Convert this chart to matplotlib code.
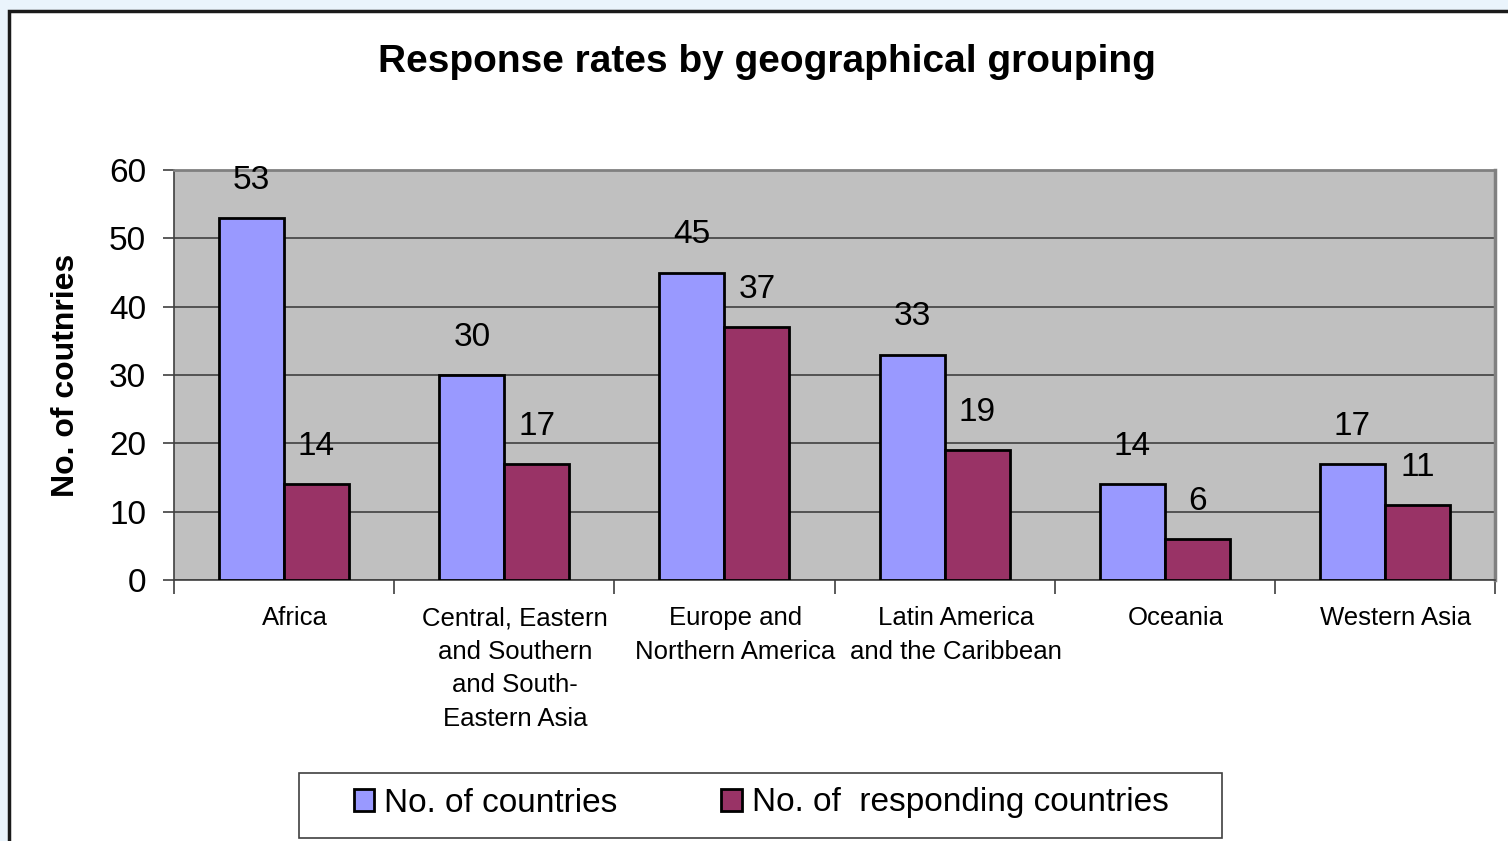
import numpy as np
import matplotlib.pyplot as plt
from matplotlib.patches import Rectangle

plt.rcParams['font.family'] = ['Liberation Sans', 'DejaVu Sans']

regions = ['Africa', 'Central, Eastern\nand Southern\nand South-\nEastern Asia',
           'Europe and\nNorthern America', 'Latin America\nand the Caribbean',
           'Oceania', 'Western Asia']
n_countries = [53, 30, 45, 33, 14, 17]
n_responding = [14, 17, 37, 19, 6, 11]

W, H = 1508, 841
fig = plt.figure(figsize=(W / 100, H / 100), dpi=100)
fig.patch.set_facecolor('#eaf4fc')

# white chart area with dark frame
fig.patches.append(Rectangle((9 / W, -0.05), 1.1, 1 - 11 / H + 0.05,
                             transform=fig.transFigure, facecolor='white',
                             edgecolor='#1a1a1a', linewidth=2.5, zorder=-2))

ax = fig.add_axes([174 / W, 1 - 580 / H, (1495 - 174) / W, (580 - 170) / H])
ax.set_facecolor('#c0c0c0')

x = np.arange(len(regions))
w = 0.295
b1 = ax.bar(x - w / 2, n_countries, w, color='#9999ff', edgecolor='black',
            linewidth=2, label='No. of countries', zorder=3)
b2 = ax.bar(x + w / 2, n_responding, w, color='#993366', edgecolor='black',
            linewidth=2, label='No. of  responding countries', zorder=3)

for bars in (b1, b2):
    for r in bars:
        ax.annotate(str(int(r.get_height())), (r.get_x() + r.get_width() / 2, r.get_height()),
                    xytext=(0, 16), textcoords='offset points', ha='center', va='bottom',
                    fontsize=24, zorder=4)

ax.set_xlim(-0.5, len(regions) - 0.5)
ax.set_ylim(0, 60)
ax.set_yticks(range(0, 61, 10))
ax.yaxis.grid(True, color='#404040', linewidth=1.2, zorder=1)
ax.tick_params(axis='y', labelsize=24, length=8, width=1.2, color='#404040', pad=12)

# ticks on category boundaries, labels in the middle
ax.set_xticks(np.arange(-0.5, len(regions), 1.0))
ax.set_xticklabels([])
ax.tick_params(axis='x', which='major', length=10, width=1.2, color='#404040')
ax.set_xticks(x + 0.05, minor=True)
ax.set_xticklabels(regions, minor=True, fontsize=18.5, linespacing=1.5, ha='center', va='top')
ax.tick_params(axis='x', which='minor', length=0, pad=19)

for s in ('bottom', 'left'):
    ax.spines[s].set_color('#404040')
    ax.spines[s].set_linewidth(1.2)
ax.spines['right'].set_color('#808080')
ax.spines['right'].set_linewidth(2.5)
ax.spines['top'].set_color('#808080')
ax.spines['top'].set_linewidth(2)

ax.set_ylabel('No. of coutnries', fontsize=23, fontweight='bold', labelpad=20)
fig.text(767 / W, 1 - 62 / H, 'Response rates by geographical grouping',
         fontsize=28, fontweight='bold', ha='center', va='center')

# legend box
fig.patches.append(Rectangle((299 / W, 1 - 838 / H), (1222 - 299) / W, (838 - 773) / H,
                             transform=fig.transFigure, facecolor='white',
                             edgecolor='#404040', linewidth=1.2, zorder=-1))
fig.legend(handles=[b1, b2], loc='center', bbox_to_anchor=(761 / W, 1 - 803 / H),
           ncol=2, fontsize=24, frameon=False, handlelength=0.62,
           handleheight=0.62, handletextpad=0.3, columnspacing=3.1)

fig.savefig('out.png', dpi=100, facecolor=fig.get_facecolor())
